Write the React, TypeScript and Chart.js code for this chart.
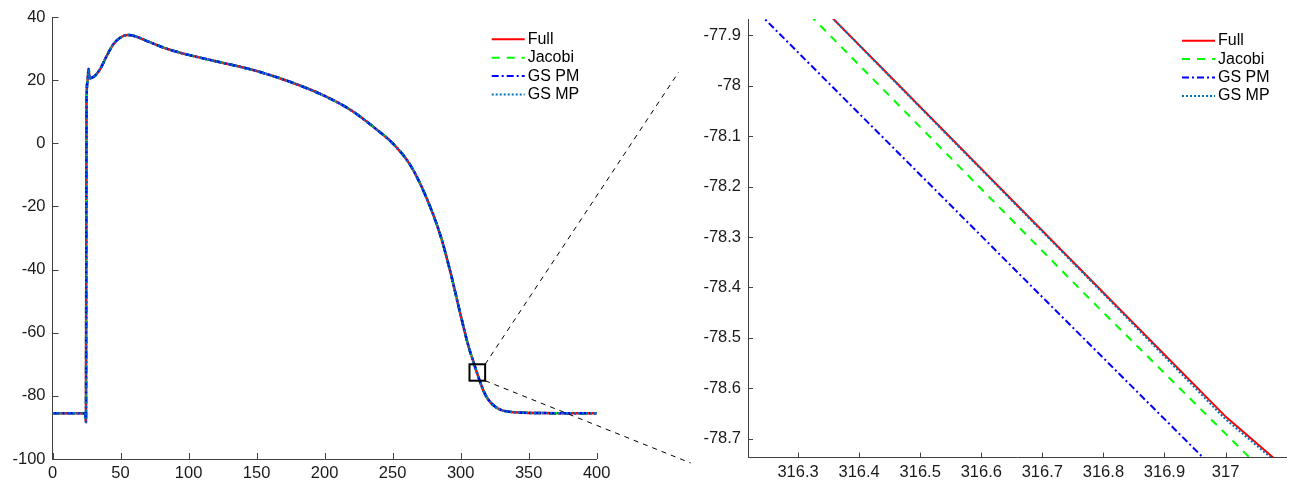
import React, { useEffect, useRef } from 'react';
import { Chart, registerables } from 'chart.js';

Chart.register(...registerables);

// ---------- series meta ----------
const seriesNames = ['Full', 'Jacobi', 'GS PM', 'GS MP'];
const seriesColors = ['#ff0000', '#00ff00', '#0000ff', '#0072bd'];
const seriesDashes: number[][] = [[], [8, 7], [7, 3, 2, 3], [2, 2]];

// ---------- left panel: full action potential (time ms, voltage mV) ----------
const apTime = [0, 10, 20, 24.0, 24.6, 25.0, 25.7, 26.5, 27.3, 28.5, 31, 35, 40, 45, 50, 55, 60, 70, 85, 100, 125, 150, 175, 200, 220, 237, 250, 263, 274, 285, 292, 300, 305.5, 310.6, 313, 316.7, 320, 325, 330, 340, 360, 380, 400];
const apVoltage = [-85.5, -85.5, -85.5, -85.6, -88.3, 12, 19.5, 23.5, 20.5, 20.7, 21.3, 23.5, 27.8, 31.5, 33.5, 34.3, 34.0, 32.3, 29.8, 28.0, 25.5, 22.9, 19.4, 15.0, 10.3, 4.8, 0, -6.9, -16.4, -29, -40, -54.4, -63.9, -70.8, -74.0, -78.3, -81.0, -83.3, -84.5, -85.2, -85.45, -85.5, -85.5];
const leftXTicks = [0, 50, 100, 150, 200, 250, 300, 350, 400];
const leftYTicks = [-100, -80, -60, -40, -20, 0, 20, 40];
const leftXRange = [0, 400];
const leftYRange = [-100, 40];
const zoomBoxT = [306.5, 318];
const zoomBoxV = [-75.2, -70];

// ---------- right panel: zoomed detail ----------
const fullT = [316.30, 316.451, 316.811, 317.001, 317.10];
const fullV = [-77.797, -77.982, -78.424, -78.657, -78.760];
const jacobiT = [316.25, 316.776, 317.10];
const jacobiV = [-77.775, -78.421, -78.810];
const gsPmT = [316.20, 316.704, 317.05];
const gsPmV = [-77.813, -78.424, -78.842];
const gsMpT = [316.30, 316.451, 316.811, 316.998, 317.10];
const gsMpV = [-77.797, -77.983, -78.426, -78.659, -78.764];
const rightXTicks = [316.3, 316.4, 316.5, 316.6, 316.7, 316.8, 316.9, 317];
const rightYTicks = [-78.7, -78.6, -78.5, -78.4, -78.3, -78.2, -78.1, -78, -77.9];
const rightXRange = [316.218, 317.099];
const rightYRange = [-78.737, -77.868];

const FONT = "'Liberation Sans', Arial, Helvetica, sans-serif";
const AXIS_COLOR = '#404040';
const TEXT_COLOR = '#1a1a1a';
const TICK_SIZE = 16.5;

const pts = (xs: number[], ys: number[]) => xs.map((x, i) => ({ x, y: ys[i] }));
const fmt = (v: number) => String(Number(v.toFixed(2)));

const inwardTicks = {
  id: 'inwardTicks',
  afterDraw(chart: any, _args: any, opts: any) {
    const { ctx, chartArea } = chart;
    const len = opts.length ?? 5;
    const xs = chart.scales.x;
    const ys = chart.scales.y;
    ctx.save();
    ctx.strokeStyle = AXIS_COLOR;
    ctx.lineWidth = 1;
    ctx.beginPath();
    xs.ticks.forEach((t: any) => {
      const px = Math.round(xs.getPixelForValue(t.value)) + 0.5;
      ctx.moveTo(px, chartArea.bottom);
      ctx.lineTo(px, chartArea.bottom - len);
    });
    ys.ticks.forEach((t: any) => {
      const py = Math.round(ys.getPixelForValue(t.value)) + 0.5;
      ctx.moveTo(chartArea.left, py);
      ctx.lineTo(chartArea.left + len, py);
    });
    ctx.stroke();
    ctx.restore();
  },
};

const boxLegend = {
  id: 'boxLegend',
  afterDraw(chart: any, _args: any, opts: any) {
    const { ctx, chartArea } = chart;
    const x0 = chartArea.right - opts.fromRight;
    const y0 = chartArea.top + opts.fromTop;
    ctx.save();
    ctx.font = `16px ${FONT}`;
    ctx.textBaseline = 'alphabetic';
    ctx.textAlign = 'left';
    chart.data.datasets.forEach((ds: any, i: number) => {
      const y = y0 + i * 18.4;
      ctx.strokeStyle = ds.borderColor;
      ctx.lineWidth = 2;
      ctx.setLineDash(ds.borderDash || []);
      ctx.beginPath();
      ctx.moveTo(x0, y);
      ctx.lineTo(x0 + 33, y);
      ctx.stroke();
      ctx.setLineDash([]);
      ctx.fillStyle = '#000';
      ctx.fillText(ds.label, x0 + 36, y + 4.5);
    });
    ctx.restore();
  },
};

const zoomMarker = {
  id: 'zoomMarker',
  afterDraw(chart: any) {
    const { ctx, chartArea } = chart;
    const xs = chart.scales.x;
    const ys = chart.scales.y;
    const l = xs.getPixelForValue(zoomBoxT[0]);
    const r = xs.getPixelForValue(zoomBoxT[1]);
    const t = ys.getPixelForValue(zoomBoxV[1]);
    const b = ys.getPixelForValue(zoomBoxV[0]);
    ctx.save();
    ctx.strokeStyle = '#000';
    ctx.lineWidth = 2;
    ctx.strokeRect(l, t, r - l, b - t);
    ctx.lineWidth = 1;
    ctx.setLineDash([5, 5]);
    ctx.beginPath();
    ctx.moveTo(r, t);
    ctx.lineTo(chartArea.right + 82, chartArea.top + 55);
    ctx.moveTo(r, b);
    ctx.lineTo(chartArea.right + 94, chartArea.bottom + 4);
    ctx.stroke();
    ctx.restore();
  },
};

function makeScales(xr: number[], yr: number[], xt: number[], yt: number[], yWidth: number, xHeight: number, xPad: number) {
  return {
    x: {
      type: 'linear' as const,
      min: xr[0],
      max: xr[1],
      grid: { display: false, drawTicks: false },
      border: { display: true, color: AXIS_COLOR, width: 1 },
      afterBuildTicks: (s: any) => { s.ticks = xt.map((v) => ({ value: v })); },
      afterFit: (s: any) => { s.height = xHeight; },
      ticks: {
        autoSkip: false,
        maxRotation: 0,
        padding: xPad,
        color: TEXT_COLOR,
        font: { family: FONT, size: TICK_SIZE },
        callback: (v: any) => fmt(Number(v)),
      },
    },
    y: {
      type: 'linear' as const,
      min: yr[0],
      max: yr[1],
      grid: { display: false, drawTicks: false },
      border: { display: true, color: AXIS_COLOR, width: 1 },
      afterBuildTicks: (s: any) => { s.ticks = yt.map((v) => ({ value: v })); },
      afterFit: (s: any) => { s.width = yWidth; },
      ticks: {
        autoSkip: false,
        padding: 7,
        color: TEXT_COLOR,
        font: { family: FONT, size: TICK_SIZE },
        callback: (v: any) => fmt(Number(v)),
      },
    },
  };
}

function dataset(i: number, data: { x: number; y: number }[], smooth: boolean, width: number) {
  return {
    label: seriesNames[i],
    data,
    borderColor: seriesColors[i],
    backgroundColor: seriesColors[i],
    borderDash: seriesDashes[i],
    borderWidth: width,
    pointRadius: 0,
    fill: false,
    clip: 0,
    tension: 0,
    order: 3 - i,
    cubicInterpolationMode: smooth ? ('monotone' as const) : ('default' as const),
  };
}

export default function App() {
  const leftRef = useRef<HTMLCanvasElement | null>(null);
  const rightRef = useRef<HTMLCanvasElement | null>(null);

  useEffect(() => {
    const ap = pts(apTime, apVoltage);
    const left = new Chart(leftRef.current as HTMLCanvasElement, {
      type: 'line',
      data: {
        datasets: [0, 1, 2, 3].map((i) => dataset(i, ap, true, 2.5)),
      },
      options: {
        responsive: false,
        animation: false,
        layout: { padding: { top: 17, right: 103.3, left: 0, bottom: 0 } },
        scales: makeScales(leftXRange, leftYRange, leftXTicks, leftYTicks, 52.5, 23, 5) as any,
        plugins: {
          legend: { display: false },
          tooltip: { enabled: false },
          inwardTicks: { length: 6 },
          boxLegend: { fromRight: 105, fromTop: 22.3 },
        } as any,
      },
      plugins: [inwardTicks, boxLegend, zoomMarker],
    });

    const right = new Chart(rightRef.current as HTMLCanvasElement, {
      type: 'line',
      data: {
        datasets: [
          dataset(0, pts(fullT, fullV), false, 2),
          dataset(1, pts(jacobiT, jacobiV), false, 2),
          dataset(2, pts(gsPmT, gsPmV), false, 2),
          dataset(3, pts(gsMpT, gsMpV), false, 2),
        ],
      },
      options: {
        responsive: false,
        animation: false,
        layout: { padding: { top: 19, right: 5, left: 0, bottom: 0 } },
        scales: makeScales(rightXRange, rightYRange, rightXTicks, rightYTicks, 58, 24.5, 5) as any,
        plugins: {
          legend: { display: false },
          tooltip: { enabled: false },
          inwardTicks: { length: 5 },
          boxLegend: { fromRight: 104, fromTop: 21.7 },
        } as any,
      },
      plugins: [inwardTicks, boxLegend],
    });

    return () => {
      left.destroy();
      right.destroy();
    };
  }, []);

  return (
    <div style={{ position: 'fixed', left: 0, top: 0, width: 1291, height: 482, background: '#fff' }}>
      <canvas ref={leftRef} width={700} height={482} style={{ position: 'absolute', left: 0, top: 0, width: 700, height: 482 }} />
      <canvas ref={rightRef} width={601} height={482} style={{ position: 'absolute', left: 690, top: 0, width: 601, height: 482 }} />
    </div>
  );
}
